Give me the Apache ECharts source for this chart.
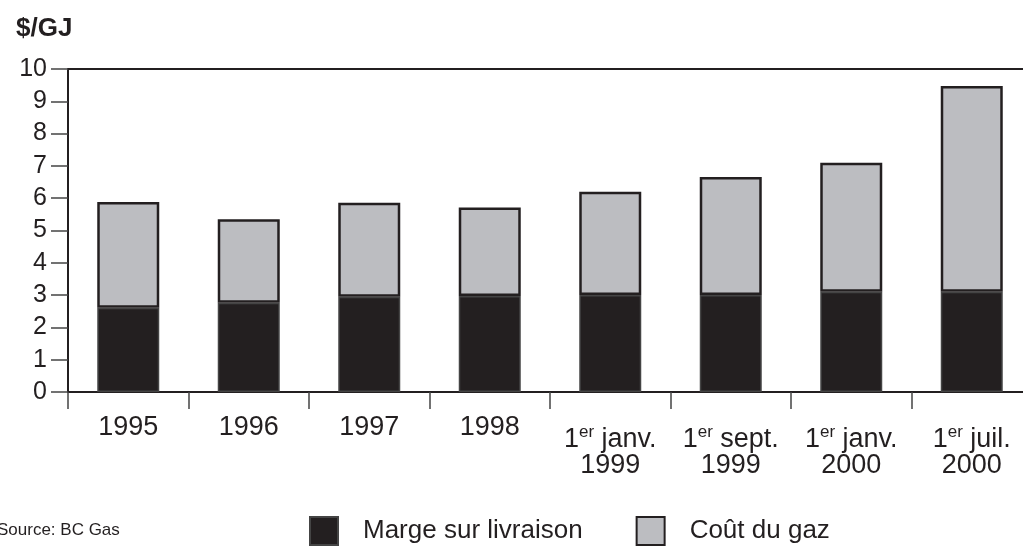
<!DOCTYPE html>
<html>
<head>
<meta charset="utf-8">
<script src="https://cdn.jsdelivr.net/npm/echarts@6/dist/echarts.min.js"></script>
<style>
  html, body { margin: 0; padding: 0; background: #fff; }
  #chart { width: 1023px; height: 548px; }
</style>
</head>
<body>
<div id="chart"></div>
<script>
// categories on the x axis
const categories = ['1995', '1996', '1997', '1998', '1er janv.\n1999', '1er sept.\n1999', '1er janv.\n2000', '1er juil.\n2000']
// $/GJ values
const marge = [2.61, 2.76, 2.95, 2.97, 3.0, 3.0, 3.1, 3.1]
const cout = [3.27, 2.59, 2.91, 2.74, 3.2, 3.66, 4.0, 6.37]
const yTicks = [0, 10, 1] // min, max, interval

const dark = '#231f20'
const grey = '#bcbdc1'
const font = 'Liberation Sans'

const chart = echarts.init(document.getElementById('chart'))

// "1er janv.\n1999" -> superscript "er"
function fmtLabel(v) {
  if (v.indexOf('\n') < 0) return '{s|' + v + '}'
  const lines = v.split('\n')
  const first = lines[0].replace(/^1er/, '')
  return '{n1|1}{sup|er}{n1|' + first + '}\n{n2|' + lines[1] + '}'
}

chart.setOption({
  animation: false,
  textStyle: { fontFamily: font, color: dark },
  title: {
    text: '$/GJ',
    left: 11,
    top: 11,
    textStyle: { fontFamily: font, fontSize: 26, fontWeight: 'bold', color: dark },
  },
  graphic: [
    {
      type: 'text',
      left: -3,
      top: 522,
      style: { text: 'Source: BC Gas', fontFamily: font, fontSize: 17, fill: dark },
    },
  ],
  legend: {
    left: 304,
    top: 511,
    itemWidth: 28,
    itemHeight: 28,
    itemGap: 53,
    icon: 'rect',
    textStyle: { fontFamily: font, fontSize: 26, color: dark, padding: [0, 0, 0, 20] },
    data: ['Marge sur livraison', 'Coût du gaz'],
  },
  grid: {
    left: 68,
    top: 69,
    right: -9,
    bottom: 156,
    outerBoundsMode: 'none',
    show: true,
    borderColor: dark,
    borderWidth: 2,
  },
  xAxis: {
    type: 'category',
    data: categories,
    axisLine: { lineStyle: { color: dark, width: 2 } },
    axisTick: { show: true, length: 17, lineStyle: { color: '#444', width: 1.5 } },
    axisLabel: {
      interval: 0,
      margin: 23,
      color: dark,
      formatter: fmtLabel,
      rich: {
        s: { fontFamily: font, fontSize: 27, lineHeight: 26, color: dark },
        n1: { fontFamily: font, fontSize: 27, lineHeight: 50, color: dark },
        sup: { fontFamily: font, fontSize: 17, color: dark, padding: [0, 0, 15, 0] },
        n2: { fontFamily: font, fontSize: 27, lineHeight: 2, color: dark },
      },
    },
  },
  yAxis: {
    type: 'value',
    min: yTicks[0],
    max: yTicks[1],
    interval: yTicks[2],
    axisLine: { show: true, lineStyle: { color: dark, width: 2 } },
    axisTick: { show: true, length: 17, lineStyle: { color: '#444', width: 1.5 } },
    axisLabel: { fontFamily: font, fontSize: 25, color: dark, margin: 21 },
    splitLine: { show: false },
  },
  series: [
    {
      name: 'Marge sur livraison',
      type: 'bar',
      stack: 'total',
      barWidth: 62,
      data: marge,
      itemStyle: { color: dark, borderColor: '#444', borderWidth: 1.5 },
    },
    {
      name: 'Coût du gaz',
      type: 'bar',
      stack: 'total',
      barWidth: 62,
      data: cout,
      itemStyle: { color: grey, borderColor: dark, borderWidth: 2.5 },
    },
  ],
})
</script>
</body>
</html>
